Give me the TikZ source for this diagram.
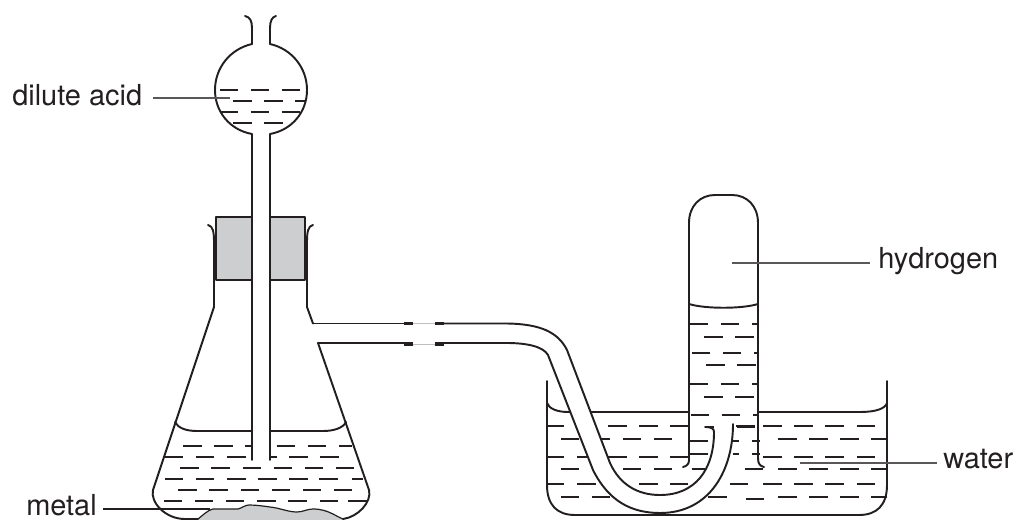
\documentclass[tikz,border=0pt]{standalone}
\usepackage{fontspec}
\setmainfont{TeX Gyre Heros}
\definecolor{ink}{HTML}{231F20}
\definecolor{metalgrey}{HTML}{CDCECF}
\tikzset{
  glass/.style={draw=ink,line width=1.45pt,line cap=round,line join=round},
  dashline/.style={draw=ink,line width=1.3pt},
  leader/.style={draw=ink!75,line width=0.8pt},
  lbl/.style={inner sep=0pt,anchor=base west,text=ink,font=\fontsize{21.7}{24}\selectfont},
  sleeve/.style={draw=ink,line width=2.4pt},
  gap/.style={draw=black!25,line width=0.5pt}
}
\newcommand{\dashrow}[3]{\foreach \a/\b in {#3} \draw[dashline] ({#2+\a/3},#1) -- ({#2+\b/3},#1);}
\begin{document}
\begin{tikzpicture}[x=0.75pt,y=-0.75pt]
\useasboundingbox (0,0) rectangle (1016,520);
% ---- metal
\fill[metalgrey] (198,520) -- (198,519) .. controls (203,515) and (208,510) .. (213,509) -- (238,509) .. controls (242,508) and (245,505) .. (249,505) .. controls (256,505) and (263,506) .. (270,507) .. controls (280,508) and (288,512) .. (297,512) .. controls (303,512) and (307,509) .. (313,509) .. controls (321,509) and (327,511) .. (333,514) .. controls (337,516) and (340,518) .. (343,520) -- cycle;
\draw[glass,line width=0.9pt] (198,519) .. controls (203,515) and (208,510) .. (213,509) -- (238,509) .. controls (242,508) and (245,505) .. (249,505) .. controls (256,505) and (263,506) .. (270,507) .. controls (280,508) and (288,512) .. (297,512) .. controls (303,512) and (307,509) .. (313,509) .. controls (321,509) and (327,511) .. (333,514) .. controls (337,516) and (340,518) .. (343,519);
% ---- flask
\draw[glass] (208,225) .. controls (213,226) and (214,232) .. (214,242) -- (214,307) -- (153,490) .. controls (150,502) and (165,519) .. (185,519) -- (198,519);
\draw[glass] (343,519) .. controls (358,517) and (372,502) .. (369,490) -- (318,343);
\draw[glass] (313,225) .. controls (308,226) and (307,232) .. (307,242) -- (307,307) -- (313,323.5);
% flask water
\draw[glass] (175,422) .. controls (178,428) and (186,431) .. (197,431) -- (252,431);
\draw[glass] (270,431) -- (323,431) .. controls (334,431) and (343,428) .. (346,422);
\dashrow{446}{130}{160/215,253/308,346/365,440/495,533/588,627/665}
\dashrow{457}{130}{105/160,198/253,292/347,422/440,478/533,571/626}
\dashrow{468}{130}{150/206,244/300,338/393,431/486,524/579,618/673}
\dashrow{479}{130}{104/160,198/253,292/347,385/440,478/533,568/623,665/700}
\dashrow{490}{130}{145/200,238/294,332/387,425/480,519/574,612/667}
\dashrow{501}{130}{102/157,195/250,288/343,382/437,475/530,569/624,655/710}
% stopper
\filldraw[glass,fill=metalgrey,line cap=butt] (252,217) -- (216,217) -- (216,280) -- (252,280);
\filldraw[glass,fill=metalgrey,line cap=butt] (270,217) -- (305,217) -- (305,280) -- (270,280);
% ---- dropping funnel
\draw[glass] (245,16) .. controls (250,17) and (252,21) .. (252,28) -- (252,44);
\draw[glass] (276,16) .. controls (272,17) and (270,21) .. (270,28) -- (270,44);
\draw[glass] (252,44) .. controls (230,49) and (215,68) .. (215,90) .. controls (215,112) and (230,130) .. (252,134) -- (252,460);
\draw[glass] (270,44) .. controls (292,49) and (307,68) .. (307,90) .. controls (307,112) and (292,130) .. (270,134) -- (270,460);
\dashrow{90}{130}{270/325,362/417,455/510}
\dashrow{101}{130}{310/365,403/458,496/525}
\dashrow{112}{130}{270/325,362/417,455/510}
\dashrow{123}{130}{310/365,403/458}
% ---- beaker
\draw[glass] (547,381) -- (547,485) .. controls (547,505) and (557,515) .. (575,515) -- (859,515) .. controls (877,515) and (887,505) .. (887,485) -- (887,381);
\draw[glass] (547,403) .. controls (549,409) and (558,412) .. (568,412) -- (689,412);
\draw[glass] (758,412) -- (860,412) .. controls (875,412) and (885,409) .. (887,403);
\dashrow{426}{530}{50/103,235/290,328/383,420/475,618/675,700/755,793/848,886/941,980/1035}
\dashrow{439}{530}{92/147,185/240,278/333,372/427,745/800,838/893,931/986,1024/1070}
\dashrow{457}{530}{50/103,142/197,235/290,328/383,420/475,700/755,793/848,886/941,980/1035}
\dashrow{469}{530}{92/147,185/240,278/333,372/427,485/525,645/700,745/800,838/893,931/986,1024/1070}
\dashrow{484}{530}{50/103,142/197,235/290,328/383,420/475,600/655,700/755,793/848,886/941,980/1035}
\dashrow{497}{530}{92/147,185/240,535/590,745/800,838/893,931/986,1024/1070}
\dashrow{499}{530}{648/703}
% ---- gas jar
\draw[glass] (683,467) .. controls (687,466) and (689,464) .. (689,460) -- (689,223) .. controls (689,206) and (700,195) .. (715,195) -- (732,195) .. controls (747,195) and (758,206) .. (758,223) -- (758,458) .. controls (758,464) and (760,466) .. (764,467);
\draw[glass] (689,304) .. controls (705,309) and (742,309) .. (758,304);
\dashrow{324}{640}{150/204,242/297,336/355}
\dashrow{337}{640}{193/248,286/341}
\dashrow{353}{640}{156/210,248/303,342/355}
\dashrow{365}{640}{199/254,292/347}
\dashrow{384}{640}{150/204,242/297,336/355}
\dashrow{397}{640}{193/248,286/341}
\dashrow{415}{640}{152/207,245/300,339/355}
\dashrow{427}{640}{197/222,290/345}
\dashrow{441}{670}{60/115,188/207,245/270}
\dashrow{454}{670}{60/115,188/207,245/270}
\dashrow{469}{670}{65/105}
% ---- delivery tube
\fill[white] (435,324) -- (507,324) .. controls (540,324) and (558,332) .. (567,350) -- (610,463) .. controls (620,485) and (638,495) .. (660,495) .. controls (695,495) and (714,470) .. (714,430) -- (714,427) -- (733,424) .. controls (733,470) and (710,513) .. (660,513) .. controls (630,513) and (608,500) .. (593,470) -- (548,355) .. controls (543,346) and (525,343) .. (507,343) -- (435,343) -- cycle;
\draw[glass] (313,323.5) -- (404,323.5);
\draw[glass] (318,343) -- (404,343);
\draw[sleeve] (404,323.5) -- (413,323.5) (435,323.5) -- (444,323.5);
\draw[sleeve] (404,344) -- (413,344) (435,344) -- (444,344);
\draw[gap] (413,323.5) -- (435,323.5) (413,344) -- (435,344);
\draw[glass] (444,323.5) -- (507,323.5) .. controls (540,324) and (558,332) .. (567,350) -- (610,463) .. controls (620,485) and (638,495) .. (660,495) .. controls (695,495) and (714,470) .. (714,432) .. controls (714,429) and (712,427) .. (705,427);
\draw[glass] (444,343) -- (507,343) .. controls (525,343) and (543,346) .. (548,355) -- (593,470) .. controls (608,500) and (630,513) .. (660,513) .. controls (710,513) and (733,470) .. (733,424);
% ---- labels and leaders
\node[lbl] (acid) at (12,106) {dilute acid};
\node[lbl] (metal) at (26,515.5) {metal};
\node[lbl] (hyd) at (878,268) {hydrogen};
\node[lbl] (wat) at (943,468) {water};
\coordinate (acidEnd) at (230,98);
\coordinate (metalEnd) at (210,509);
\coordinate (hydEnd) at (732,263);
\coordinate (watEnd) at (800,463);
\draw[leader] ([xshift=8.25pt]acid.east |- acidEnd) -- (acidEnd);
\draw[leader,draw=ink] ([xshift=4.5pt]metal.east |- metalEnd) -- (metalEnd);
\draw[leader] ([xshift=-6pt]hyd.west |- hydEnd) -- (hydEnd);
\draw[leader] ([xshift=-4.5pt]wat.west |- watEnd) -- (watEnd);
\end{tikzpicture}
\end{document}
